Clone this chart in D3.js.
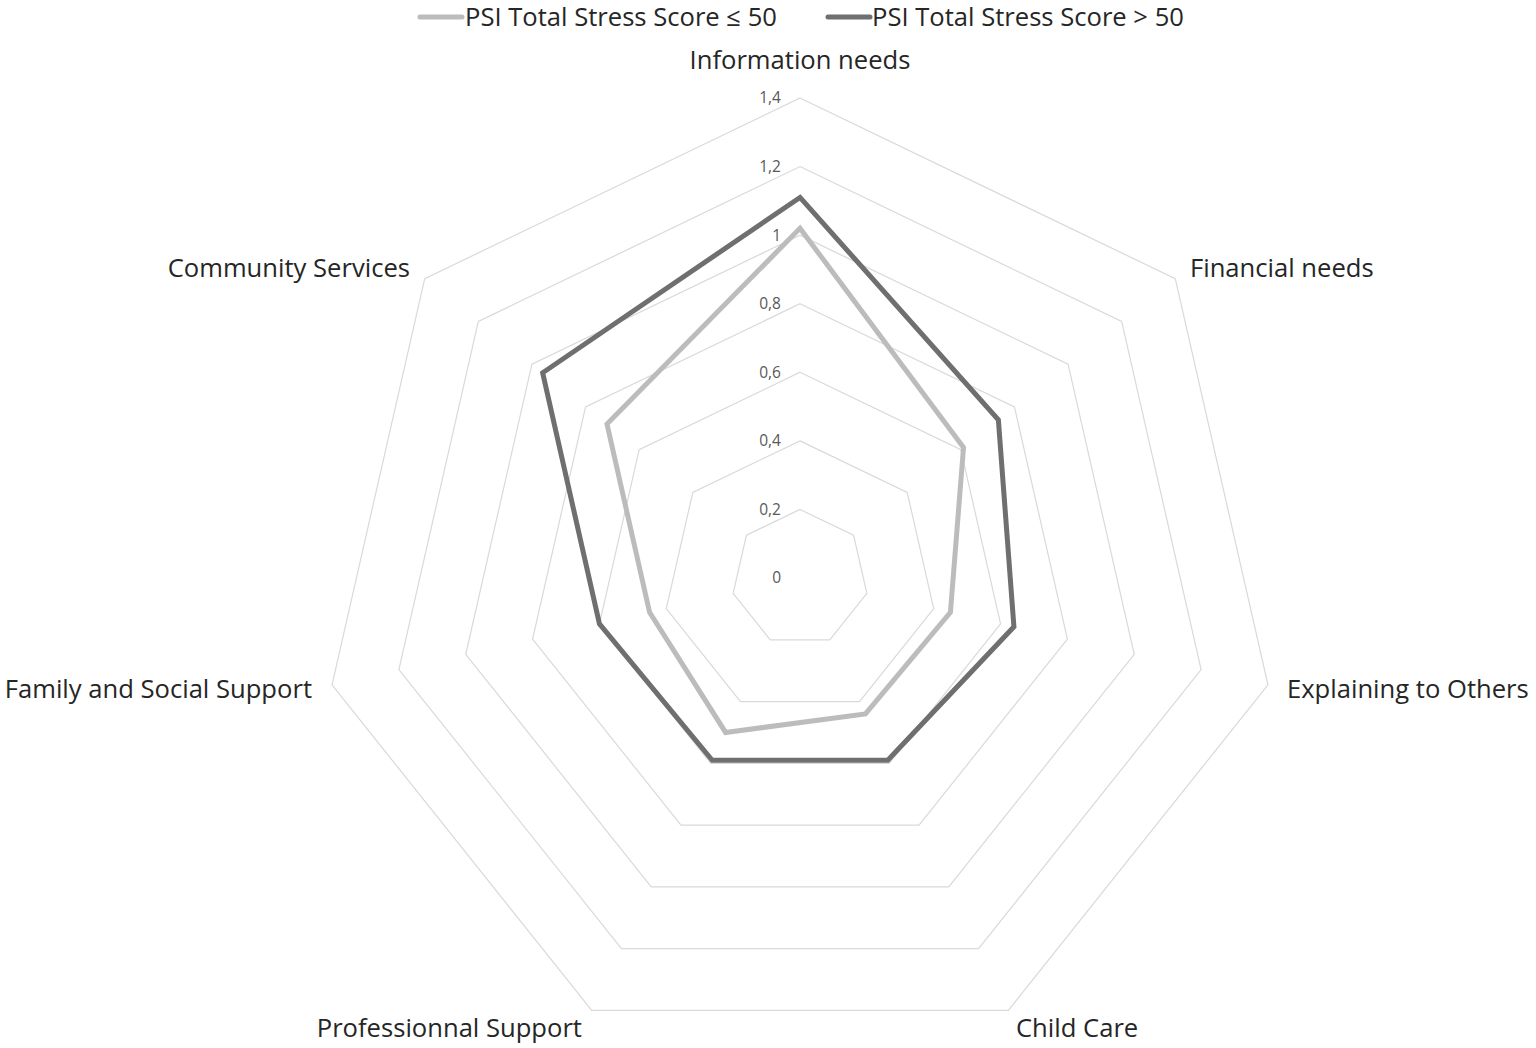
<!DOCTYPE html>
<html>
<head>
<meta charset="utf-8">
<script src="https://cdn.jsdelivr.net/npm/d3@7"></script>
<style>
  html, body { margin: 0; padding: 0; background: #fff; }
  svg { display: block; font-family: "Open Sans", "Liberation Sans", sans-serif; }
</style>
</head>
<body>
<svg id="chart" width="1536" height="1048"></svg>
<script>
const categories = ["Information needs", "Financial needs", "Explaining to Others", "Child Care", "Professionnal Support", "Family and Social Support", "Community Services"];
const seriesNames = ["PSI Total Stress Score \u2264 50", "PSI Total Stress Score > 50"];
const lowStress = [1.02, 0.61, 0.45, 0.44, 0.50, 0.45, 0.72];
const highStress = [1.11, 0.74, 0.64, 0.59, 0.59, 0.60, 0.96];
const tickValues = [0, 0.2, 0.4, 0.6, 0.8, 1, 1.2, 1.4];
const tickLabels = ["0", "0,2", "0,4", "0,6", "0,8", "1", "1,2", "1,4"];

const svg = d3.select("#chart");
const cx = 800, cy = 578, R = 480;
const r = d3.scaleLinear().domain([0, 1.4]).range([0, R]);
const n = categories.length;
const angle = d3.scaleLinear().domain([0, n]).range([0, 2 * Math.PI]);
const pt = (i, v) => [cx + r(v) * Math.sin(angle(i)), cy - r(v) * Math.cos(angle(i))];

// grid rings
const g = svg.append("g");
tickValues.filter(v => v > 0).forEach(v => {
  g.append("path")
    .attr("d", d3.line()(d3.range(n).map(i => pt(i, v))) + "Z")
    .attr("fill", "none").attr("stroke", "#d9d9d9").attr("stroke-width", 1.2);
});

// tick labels
g.selectAll("text.tick").data(tickValues).join("text")
  .attr("class", "tick")
  .attr("x", 781).attr("y", d => cy - r(d))
  .attr("dy", "0.35em").attr("text-anchor", "end")
  .attr("font-size", 15.5).attr("fill", "#595959")
  .text((d, i) => tickLabels[i]);

// series
const colors = ["#bcbcbc", "#6f6f6f"];
[lowStress, highStress].forEach((vals, s) => {
  svg.append("path")
    .attr("d", d3.line()(vals.map((v, i) => pt(i, v))) + "Z")
    .attr("fill", "none").attr("stroke", colors[s]).attr("stroke-width", 5)
    .attr("stroke-linejoin", "miter");
});

// category labels
const labelPos = [
  {x: 800, y: 60, a: "middle"},
  {x: 1190, y: 268, a: "start"},
  {x: 1287, y: 689, a: "start"},
  {x: 1016, y: 1028, a: "start"},
  {x: 582, y: 1028, a: "end"},
  {x: 312, y: 689, a: "end"},
  {x: 410, y: 268, a: "end"}
];
svg.selectAll("text.cat").data(categories).join("text")
  .attr("class", "cat")
  .attr("x", (d, i) => labelPos[i].x).attr("y", (d, i) => labelPos[i].y)
  .attr("dy", "0.35em").attr("text-anchor", (d, i) => labelPos[i].a)
  .attr("font-size", 25.6).attr("fill", "#262626")
  .text(d => d);

// legend
const legend = [{x1: 420, x2: 462, tx: 465}, {x1: 828, x2: 870, tx: 872}];
legend.forEach((l, i) => {
  svg.append("line").attr("x1", l.x1).attr("x2", l.x2).attr("y1", 17).attr("y2", 17)
    .attr("stroke", colors[i]).attr("stroke-width", 5).attr("stroke-linecap", "round");
  svg.append("text").attr("x", l.tx).attr("y", 17).attr("dy", "0.35em")
    .attr("font-size", 25.6).attr("fill", "#262626").text(seriesNames[i]);
});
</script>
</body>
</html>
